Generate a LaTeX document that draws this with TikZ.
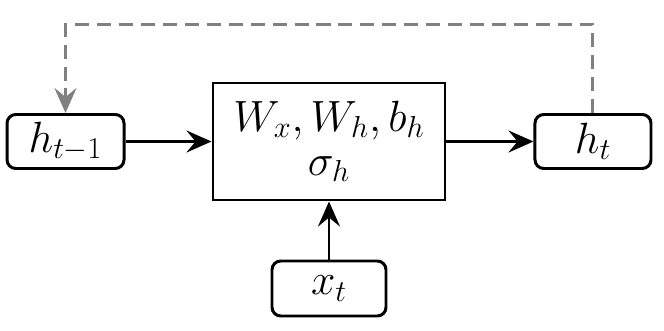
\documentclass[tikz,border=0pt]{standalone}
\usepackage{amsmath}
\usepackage{tikz}
\usetikzlibrary{arrows.meta, positioning, calc}
\definecolor{cLoop}{RGB}{128,128,128}
\tikzset{
	state/.style  ={rectangle, rounded corners=5pt, draw=black, line width=1.7pt, minimum width=2.34cm, minimum height=1.08cm, inner sep=0pt, align=center},
	cell/.style   ={rectangle, draw=black, line width=1.7pt, minimum width=4.64cm, minimum height=2.34cm, inner sep=0pt, align=center},
	flow/.style   ={-{Stealth[length=5mm, width=4.4mm, inset=1.8mm]}, line width=1.7pt},
	recur/.style  ={-{Stealth[length=5mm, width=4.4mm, inset=1.8mm]}, line width=1.7pt, draw=cLoop, dash pattern=on 8pt off 4.5pt},
}
\begin{document}
\begin{tikzpicture}[font=\fontsize{23}{25}\selectfont]
	\useasboundingbox (-6.58,-3.77) rectangle (6.70,2.83);
	\node[cell] (rnn) {$W_x, W_h, b_h$\\ $\sigma_h$};
	\node[state, left=1.72cm of rnn] (hprev) {$h_{t-1}$};
	\node[state, right=1.74cm of rnn, minimum width=2.32cm] (hcur) {$h_t$};
	\node[state, below=1.16cm of rnn, minimum width=2.28cm, minimum height=1.1cm] (xin) {$x_t$};
	\draw[flow] (hprev) -- (rnn);
	\draw[flow] (rnn) -- (hcur);
	\draw[flow] (xin) -- (rnn);
	% recurrent connection back to the previous state
	\draw[recur] (hcur.north) -- ++(0,1.78) -| (hprev.north);
\end{tikzpicture}
\end{document}
